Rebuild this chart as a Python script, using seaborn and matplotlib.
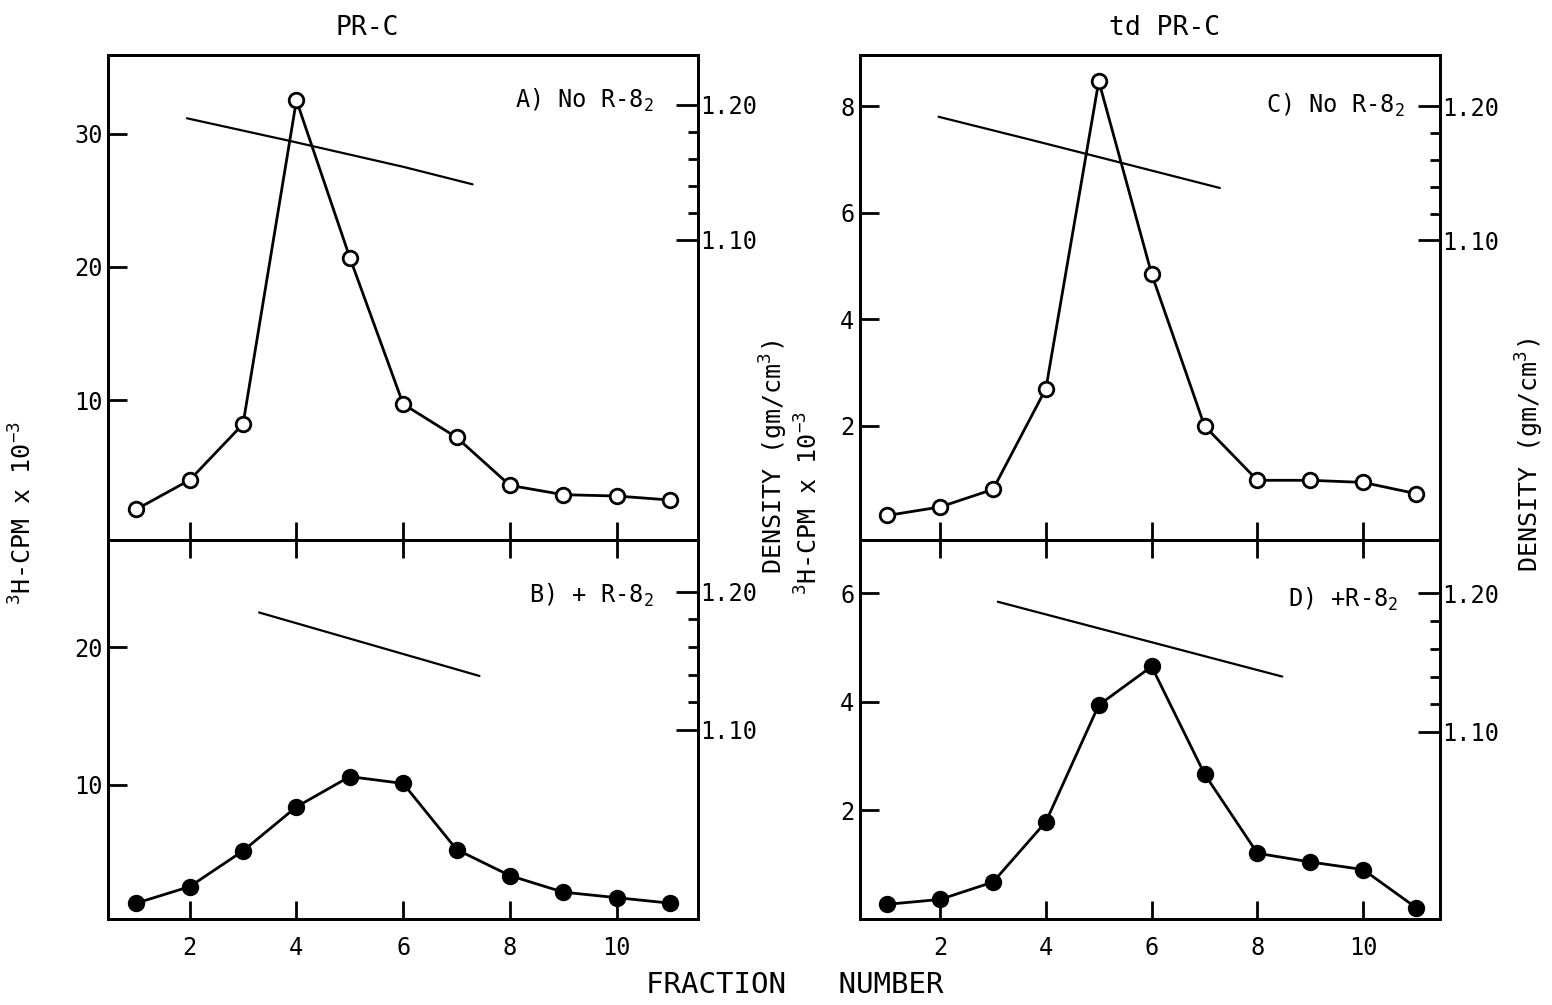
import numpy as np
import pandas as pd
import matplotlib
matplotlib.use("Agg")
import matplotlib.pyplot as plt
from matplotlib.ticker import FixedLocator
import seaborn as sns

# номера фракций
fractions = list(range(1, 12))

# A) PR-C, без R-8_2 (светлые точки)
cpm_a = [1.8, 4.0, 8.2, 32.5, 20.7, 9.7, 7.2, 3.6, 2.9, 2.8, 2.5]
# B) PR-C, + R-8_2 (тёмные точки)
cpm_b = [1.4, 2.6, 5.2, 8.4, 10.6, 10.1, 5.3, 3.4, 2.2, 1.8, 1.4]
# C) td PR-C, без R-8_2
cpm_c = [0.32, 0.48, 0.81, 2.70, 8.47, 4.85, 2.0, 0.98, 0.98, 0.94, 0.73]
# D) td PR-C, + R-8_2
cpm_d = [0.27, 0.36, 0.68, 1.79, 3.94, 4.65, 2.67, 1.21, 1.05, 0.91, 0.21]

# линии плотности (градиент)
dens_x_a = [1.95, 3.9, 6.0, 7.3]
dens_y_a = [1.190, 1.173, 1.154, 1.141]
dens_x_b = [3.3, 7.43]
dens_y_b = [1.185, 1.139]
dens_x_c = [1.97, 3.8, 5.4, 7.29]
dens_y_c = [1.192, 1.174, 1.158, 1.139]
dens_x_d = [3.09, 8.47]
dens_y_d = [1.194, 1.140]

panel_labels = ["A) No R-8$_2$", "B) + R-8$_2$", "C) No R-8$_2$", "D) +R-8$_2$"]
column_titles = ["PR-C", "td PR-C"]

sns.set_style("ticks")
plt.rcParams['font.family'] = ['DejaVu Sans Mono', 'DejaVu Sans']
plt.rcParams['mathtext.fontset'] = 'custom'
plt.rcParams['mathtext.rm'] = 'DejaVu Sans Mono'
plt.rcParams['mathtext.default'] = 'regular'
plt.rcParams['text.color'] = 'black'
plt.rcParams['axes.edgecolor'] = 'black'
plt.rcParams['xtick.color'] = 'black'
plt.rcParams['ytick.color'] = 'black'

fig = plt.figure(figsize=(15.52, 10.05), dpi=100)

lw_spine = 2.0
fs = 17

# позиции осей [left, bottom, width, height]
pos = {
    'A': [0.0696, 0.4627, 0.380, 0.4826],
    'B': [0.0696, 0.0856, 0.380, 0.3771],
    'C': [0.554, 0.4627, 0.3737, 0.4826],
    'D': [0.554, 0.0856, 0.3737, 0.3771],
}
ylims = {'A': (-0.5, 35.9), 'B': (0.25, 27.8), 'C': (-0.14, 8.96), 'D': (0.0, 6.98)}
yticks = {'A': [10, 20, 30], 'B': [10, 20], 'C': [2, 4, 6, 8], 'D': [2, 4, 6]}
dlims = {'A': (0.877, 1.237), 'B': (0.963, 1.2375), 'C': (0.877, 1.238), 'D': (0.965, 1.2386)}
xlims = {'A': (0.47, 11.52), 'B': (0.47, 11.52), 'C': (0.48, 11.45), 'D': (0.48, 11.45)}

series = {'A': cpm_a, 'B': cpm_b, 'C': cpm_c, 'D': cpm_d}
dens = {'A': (dens_x_a, dens_y_a), 'B': (dens_x_b, dens_y_b),
        'C': (dens_x_c, dens_y_c), 'D': (dens_x_d, dens_y_d)}
filled = {'A': False, 'B': True, 'C': False, 'D': True}
lab_pos = {'A': (0.925, 0.907), 'B': (0.925, 0.855), 'C': (0.94, 0.897), 'D': (0.928, 0.842)}

for i, key in enumerate(['A', 'B', 'C', 'D']):
    ax = fig.add_axes(pos[key])
    df = pd.DataFrame({'frac': fractions, 'cpm': series[key]})
    sns.lineplot(data=df, x='frac', y='cpm', ax=ax, color='black', linewidth=2,
                 marker='o', markersize=10.5, markeredgewidth=2,
                 markeredgecolor='black',
                 markerfacecolor='black' if filled[key] else 'white')
    ax.set_xlim(*xlims[key])
    ax.set_ylim(*ylims[key])
    ax.set_xticks([2, 4, 6, 8, 10])
    ax.set_yticks(yticks[key])
    ax.set_xlabel('')
    ax.set_ylabel('')
    for sp in ax.spines.values():
        sp.set_linewidth(lw_spine)
        sp.set_visible(True)
    top_panel = key in ('A', 'C')
    ax.tick_params(axis='x', direction='in', length=13, width=2,
                   top=not top_panel, bottom=True,
                   labelbottom=not top_panel, labelsize=fs, pad=12)
    ax.tick_params(axis='y', direction='in', length=14, width=2,
                   left=True, right=False, labelsize=fs, pad=4)
    ax.text(lab_pos[key][0], lab_pos[key][1], panel_labels[i], transform=ax.transAxes,
            ha='right', va='center', fontsize=fs)

    # правая ось плотности
    ax2 = ax.twinx()
    dx, dy = dens[key]
    sns.lineplot(x=dx, y=dy, ax=ax2, color='black', linewidth=1.6)
    ax2.set_ylim(*dlims[key])
    ax2.yaxis.set_major_locator(FixedLocator([1.10, 1.20]))
    ax2.yaxis.set_minor_locator(FixedLocator([1.12, 1.14, 1.16, 1.18]))
    ax2.set_yticklabels(['1.10', '1.20'])
    ax2.tick_params(axis='y', which='major', direction='in', length=16, width=2,
                    labelsize=fs, pad=2)
    ax2.tick_params(axis='y', which='minor', direction='in', length=7, width=2)
    ax2.set_ylabel('')
    for sp in ax2.spines.values():
        sp.set_linewidth(lw_spine)

# заголовки колонок
fig.text(0.2365, 0.972, column_titles[0], ha='center', va='center', fontsize=19)
fig.text(0.7506, 0.972, column_titles[1], ha='center', va='center', fontsize=19)

# подписи осей
fig.text(0.015, 0.49, "$^3$H-CPM x 10$^{-3}$", rotation=90, ha='center', va='center', fontsize=18)
fig.text(0.5215, 0.50, "$^3$H-CPM x 10$^{-3}$", rotation=90, ha='center', va='center', fontsize=18)
fig.text(0.4985, 0.545, "DENSITY (gm/cm$^3$)", rotation=90, ha='center', va='center', fontsize=18)
fig.text(0.9855, 0.547, "DENSITY (gm/cm$^3$)", rotation=90, ha='center', va='center', fontsize=18)
fig.text(0.512, 0.020, "FRACTION   NUMBER", ha='center', va='center', fontsize=21)

plt.savefig('out.png', dpi=100, facecolor='white')
